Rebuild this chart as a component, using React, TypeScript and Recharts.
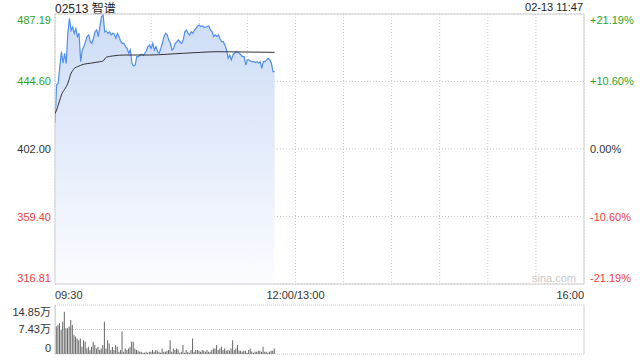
import { ComposedChart, Area, Line, Bar, XAxis, YAxis, CartesianGrid, ReferenceLine } from 'recharts'

// previous close, price axis and time axis (minutes after 09:30, lunch break removed)
const prevClose = 402.0
const priceTicks = [316.81, 359.4, 402.0, 444.6, 487.19]
const timeTicks = [0, 30, 60, 90, 120, 150, 180, 210, 240, 270, 300, 330]
const timeLabels: Record<number, string> = { 0: '09:30', 150: '12:00/13:00', 330: '16:00' }

// one price per minute, 09:30 .. 11:47
const prices = [
  418.2, 442.4, 443.5, 453.9, 463.4, 456.1, 462.4, 456.0, 475.0, 484.5,
  477.0, 479.0, 475.0, 478.0, 472.9, 475.0, 457.1, 464.5, 466.6, 469.7,
  472.9, 474.0, 469.7, 468.7, 471.9, 476.0, 477.1, 472.9, 479.2, 485.5,
  486.6, 476.0, 476.5, 475.0, 476.0, 474.0, 475.0, 474.5, 471.9, 475.0,
  472.9, 469.7, 468.7, 468.7, 466.6, 465.5, 462.4, 464.5, 456.1, 454.4,
  455.0, 460.3, 460.3, 461.3, 461.8, 461.0, 462.4, 464.0, 466.6, 467.6,
  465.5, 468.7, 464.5, 466.6, 463.4, 462.4, 465.5, 468.7, 472.9, 475.0,
  474.0, 470.8, 468.7, 464.5, 465.5, 468.7, 469.7, 470.8, 469.5, 468.7,
  470.8, 476.0, 477.1, 475.0, 474.0, 476.0, 475.0, 477.1, 478.2, 479.6,
  480.3, 479.2, 479.6, 478.8, 479.0, 479.2, 479.6, 477.1, 476.0, 472.9,
  474.0, 472.9, 474.0, 471.2, 469.7, 469.7, 467.6, 464.5, 459.2, 461.3,
  458.2, 461.3, 462.4, 463.4, 463.0, 462.4, 461.3, 460.3, 460.3, 455.0,
  458.2, 458.2, 457.5, 457.1, 457.1, 456.6, 457.1, 456.1, 457.1, 452.9,
  457.1, 457.1, 458.2, 459.2, 458.2, 456.1, 450.8, 450.8,
]

// average price line, read at these minutes
const avgMinutes = [0, 1, 2, 3, 4, 5, 6, 7, 8, 9, 10, 11, 12, 14, 16, 18, 22, 28, 30, 31, 32, 36, 43, 59, 70, 80, 91, 101, 111, 137]
const avgPrices = [
  424.5, 426.6, 429.8, 432.9, 436.1, 438.2, 439.7, 441.3, 443.5, 446.6,
  449.8, 451.4, 452.9, 453.9, 454.8, 455.5, 456.1, 457.1, 457.5, 458.8,
  459.9, 460.7, 461.3, 461.3, 461.8, 462.4, 463.0, 463.4, 463.3, 463.0,
]

// volume per minute, in 万 shares
const volumes = [
  14.85, 8.3, 8.8, 9.3, 7.3, 9.8, 12.8, 7.8, 7.8, 8.3,
  10.3, 8.8, 5.8, 5.3, 4.7, 4.2, 4.7, 2.2, 4.2, 3.7,
  1.7, 2.2, 1.2, 2.2, 3.7, 2.7, 1.7, 2.2, 1.2, 1.7,
  2.7, 9.8, 1.7, 4.2, 3.2, 1.2, 2.2, 1.2, 2.7, 2.2,
  0.7, 1.2, 6.8, 0.7, 1.7, 1.2, 1.7, 2.2, 3.7, 3.7,
  1.7, 1.2, 1.0, 0.7, 0.7, 0.4, 0.4, 0.7, 0.4, 0.7,
  0.7, 1.2, 0.7, 1.2, 1.0, 0.7, 0.4, 1.7, 0.7, 0.7,
  1.0, 1.2, 4.2, 0.7, 1.7, 1.2, 1.7, 1.4, 0.4, 0.7,
  2.7, 0.4, 1.2, 0.7, 0.4, 1.2, 4.7, 0.7, 1.2, 1.2,
  1.0, 0.7, 1.2, 1.0, 0.7, 1.2, 0.7, 0.7, 1.2, 1.7,
  1.7, 2.7, 1.2, 1.7, 2.2, 1.2, 1.7, 1.0, 1.2, 1.0,
  1.7, 4.2, 1.2, 1.7, 2.7, 1.0, 1.0, 0.7, 1.0, 1.0,
  0.4, 1.2, 1.7, 0.7, 0.4, 0.7, 0.7, 1.0, 1.0, 0.7,
  2.2, 0.7, 0.7, 0.4, 0.7, 1.0, 1.0, 1.7,
]
const volTicks = [0, 7.43, 14.85]
const volLabels = ['0', '7.43万', '14.85万']

const priceData = prices.map((p, i) => ({ t: i, price: p }))
const avgData = avgMinutes.map((t, i) => ({ t, avg: avgPrices[i] }))
const volData = volumes.map((v, i) => ({ t: i, vol: v }))

const GREEN = '#2aa52a'
const RED = '#f23c3c'
const FONT = "'Liberation Sans', Arial, 'Noto Sans CJK SC', sans-serif"

const colorFor = (v: number) => (v > prevClose + 0.001 ? GREEN : v < prevClose - 0.001 ? RED : '#333')
const edgeShift = (v: number, lo: number, hi: number) => (v === hi ? 6 : v === lo ? -6 : 0)

function PriceTick({ x, y, payload }: any) {
  const v = payload.value as number
  return (
    <text x={x} y={y + edgeShift(v, priceTicks[0], priceTicks[4]) + 4} textAnchor="end" fontSize={11} fill={colorFor(v)}>
      {v.toFixed(2)}
    </text>
  )
}

function PctTick({ x, y, payload }: any) {
  const v = payload.value as number
  const pct = ((v - prevClose) / prevClose) * 100
  const label = (pct > 0.001 ? '+' : '') + pct.toFixed(2) + '%'
  return (
    <text x={x} y={y + edgeShift(v, priceTicks[0], priceTicks[4]) + 4} textAnchor="start" fontSize={11} fill={colorFor(v)}>
      {label}
    </text>
  )
}

function TimeTick({ x, y, payload }: any) {
  const v = payload.value as number
  const label = timeLabels[v]
  if (!label) return null
  const anchor = v === 0 ? 'start' : v === 330 ? 'end' : 'middle'
  return (
    <text x={x} y={y + 7} textAnchor={anchor} fontSize={11} fill="#333">
      {label}
    </text>
  )
}

function VolTick({ x, y, payload }: any) {
  const v = payload.value as number
  const i = volTicks.indexOf(v)
  const shift = i === 2 ? 7 : i === 0 ? -6 : 0
  return (
    <text x={x} y={y + shift + 4} textAnchor="end" fontSize={11} fill="#333">
      {volLabels[i]}
    </text>
  )
}

export default function App() {
  return (
    <div style={{ position: 'absolute', left: 0, top: 0, width: 640, height: 360, background: '#fff', fontFamily: FONT }}>
      <div style={{ position: 'absolute', left: 55, top: -1, fontSize: 12, color: '#222' }}>02513 智谱</div>
      <div style={{ position: 'absolute', right: 57, top: 1, fontSize: 11, color: '#222' }}>02-13 11:47</div>

      <ComposedChart width={640} height={300} margin={{ top: 14, right: 0, bottom: 0, left: 0 }}>
        <defs>
          <linearGradient id="priceFill" x1="0" y1="0" x2="0" y2="1">
            <stop offset="0%" stopColor="#cddcf6" />
            <stop offset="100%" stopColor="#fbfcff" />
          </linearGradient>
        </defs>
        <CartesianGrid stroke="#c8c8c8" strokeDasharray="1 2" />
        <XAxis
          dataKey="t"
          type="number"
          domain={[0, 330]}
          ticks={timeTicks}
          interval={0}
          axisLine={false}
          tickLine={false}
          height={16}
          tick={<TimeTick />}
          allowDataOverflow
        />
        <YAxis
          type="number"
          domain={[priceTicks[0], priceTicks[4]]}
          ticks={priceTicks}
          interval={0}
          width={55}
          axisLine={false}
          tickLine={false}
          tickSize={4}
          tickMargin={0}
          tick={<PriceTick />}
          allowDataOverflow
        />
        <YAxis
          yAxisId="r"
          orientation="right"
          type="number"
          domain={[priceTicks[0], priceTicks[4]]}
          ticks={priceTicks}
          interval={0}
          width={56}
          axisLine={false}
          tickLine={false}
          tickSize={6}
          tickMargin={0}
          tick={<PctTick />}
          allowDataOverflow
        />
        <ReferenceLine y={priceTicks[4]} stroke="#d0d0d0" />
        <ReferenceLine y={priceTicks[0]} stroke="#d0d0d0" />
        <ReferenceLine x={0} stroke="#d0d0d0" />
        <ReferenceLine x={330} stroke="#d0d0d0" />
        <Area
          data={priceData}
          dataKey="price"
          type="linear"
          baseValue="dataMin"
          stroke="#4f8ef2"
          strokeWidth={1.2}
          fill="url(#priceFill)"
          fillOpacity={1}
          dot={false}
          activeDot={false}
          isAnimationActive={false}
        />
        <Line
          data={avgData}
          dataKey="avg"
          type="monotone"
          stroke="#333"
          strokeWidth={1}
          dot={false}
          activeDot={false}
          isAnimationActive={false}
        />
      </ComposedChart>

      <div style={{ position: 'absolute', left: 532, top: 272, fontSize: 11, color: '#c8c8c8' }}>sina.com</div>

      <div style={{ position: 'absolute', left: 0, top: 300 }}>
        <ComposedChart width={640} height={56} data={volData} margin={{ top: 5, right: 56, bottom: 2, left: 0 }}>
          <CartesianGrid stroke="#c8c8c8" strokeDasharray="1 1" vertical={false} />
          <XAxis dataKey="t" type="number" domain={[0, 330]} hide allowDataOverflow />
          <YAxis
            type="number"
            domain={[0, 14.85]}
            ticks={volTicks}
            interval={0}
            width={55}
            axisLine={false}
            tickLine={false}
            tickSize={4}
            tickMargin={0}
            tick={<VolTick />}
            allowDataOverflow
          />
          <ReferenceLine x={330} stroke="#d0d0d0" />
          <ReferenceLine x={0} stroke="#d0d0d0" />
          <Bar dataKey="vol" fill="#666" barSize={1} isAnimationActive={false} />
        </ComposedChart>
      </div>
    </div>
  )
}
